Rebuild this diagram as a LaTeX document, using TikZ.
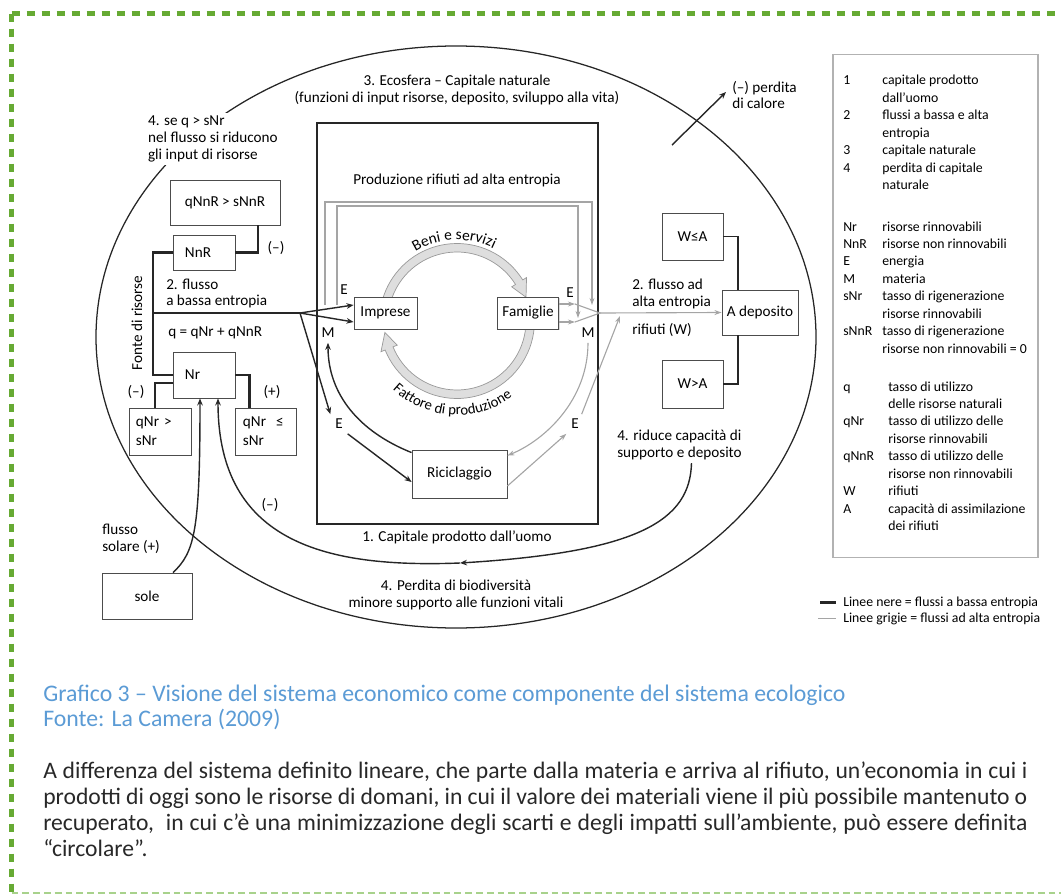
\documentclass[tikz,border=0pt]{standalone}
\usepackage{fontspec}
\setmainfont{Carlito}
\usetikzlibrary{shapes,positioning,calc,arrows.meta,shadows,decorations.text}
\definecolor{frameGreen}{RGB}{102,170,51}
\definecolor{paleGreen}{RGB}{168,210,140}
\definecolor{capBlue}{RGB}{91,155,213}
\definecolor{bodyGray}{RGB}{40,40,40}
\definecolor{hiGray}{RGB}{165,165,165}
\definecolor{bandGray}{RGB}{222,222,222}

\begin{document}
\begin{tikzpicture}
  [x=0.025cm,y=-0.025cm,
   font=\fontsize{10.8}{11.8}\selectfont,
   boxN/.style={draw=black!70,line width=0.6pt,fill=white,
                font=\fontsize{10.8}{13.5}\selectfont,
                drop shadow={shadow xshift=1pt,shadow yshift=-1pt,opacity=0.3}},
   lblN/.style={inner sep=0pt,align=left},
   lowF/.style={line width=1.6pt,black!85},
   lowA/.style={line width=1pt,black!85,-{Stealth[length=5pt,width=4pt]}},
   highF/.style={line width=0.8pt,hiGray},
   highA/.style={highF,-{Stealth[length=5pt,width=3.5pt]}},
   bandN/.style={fill=bandGray,draw=gray!80,line width=0.5pt},
   legN/.style={inner sep=0pt,anchor=base west,font=\fontsize{9.8}{12.4}\selectfont},
  ]
  \useasboundingbox (0,0) rectangle (1061,894);

  % page frame
  \draw[frameGreen,line width=0.11cm,dash pattern=on 0.2cm off 0.175cm] (11.5,13.5) -- (1061,13.5);
  \draw[frameGreen,line width=0.11cm,dash pattern=on 0.2cm off 0.175cm] (11.5,13.5) -- (11.5,894);
  \draw[paleGreen,line width=0.05cm,dash pattern=on 0.17cm off 0.1cm] (11.5,892.5) -- (1061,892.5);

  % ecosfera and capitale prodotto
  \draw[line width=0.9pt,black!85] (456,337) ellipse [x radius=360,y radius=291];
  \draw[line width=1.8pt,black!85] (317,123) rectangle (598,524);
  \node (cap1) at (457,537) {1. Capitale prodotto dall’uomo};
  \node[align=center] (eco) at (457,90) {3. Ecosfera – Capitale naturale\\(funzioni di input risorse, deposito, sviluppo alla vita)};
  \node (prodW) at (457,180) {Produzione rifiuti ad alta entropia};

  % gray waste frame
  \coordinate (wL1) at (325,305);
  \coordinate (wL2) at (337,305);
  \coordinate (wTop1) at (592,202);
  \coordinate (wTop2) at (578,206);
  \draw[highA] (wL1) |- (wTop1) -- ++(0,103);
  \draw[highA] (wL2) |- (wTop2) -- ++(0,112);

  % circular flow
  \begin{scope}[shift={(457,321)}]
    \filldraw[bandN]
      plot[domain=185:328,samples=40] ({77.5*cos(\x)},{77.5*sin(\x)})
      -- ({82*cos(328)},{82*sin(328)}) -- ({73*cos(341)},{73*sin(341)})
      -- ({64.5*cos(328)},{64.5*sin(328)})
      -- plot[domain=328:185,samples=40] ({69*cos(\x)},{69*sin(\x)}) -- cycle;
    \filldraw[bandN]
      plot[domain=5:158,samples=40] ({77.5*cos(\x)},{77.5*sin(\x)})
      -- ({82*cos(158)},{82*sin(158)}) -- ({73*cos(171)},{73*sin(171)})
      -- ({64.5*cos(158)},{64.5*sin(158)})
      -- plot[domain=158:5,samples=40] ({69*cos(\x)},{69*sin(\x)}) -- cycle;
    \path[decorate,decoration={text along path,text align=center,
          text={|\fontsize{11}{11}\selectfont|Beni e servizi}}]
      plot[domain=220:316,samples=30] ({81*cos(\x)},{81*sin(\x)});
    \path[decorate,decoration={text along path,text align=center,
          text={|\fontsize{10.5}{11}\selectfont|Fattore di produzione}}]
      plot[domain=162:25,samples=30] ({94*cos(\x)},{94*sin(\x)});
  \end{scope}

  \node[boxN,minimum width=1.575cm,minimum height=0.8cm] (imp) at (385.5,313) {Imprese};
  \node[boxN,minimum width=1.5cm,minimum height=0.8cm] (fam) at (528,313) {Famiglie};
  \node[boxN,minimum width=2.375cm,minimum height=1.2cm] (ric) at (459.5,474) {Riciclaggio};

  \node (eL) at (344,290) {E};
  \node (mL) at (328,333) {M};
  \node (eL2) at (339,424) {E};
  \node (eR) at (570,293) {E};
  \node (mR) at (588,333) {M};
  \node (eR2) at (575,424) {E};

  % resources
  \node[boxN,minimum width=2.75cm,minimum height=1.125cm] (qnnr) at (225,202.5) {qNnR > sNnR};
  \node[boxN,minimum width=1.55cm,minimum height=0.875cm,text width=0.95cm,align=left,inner xsep=0.3cm] (nnr) at (204,252.5) {NnR};
  \node[boxN,minimum width=1.55cm,minimum height=1.15cm,text width=0.95cm,align=left,inner xsep=0.3cm] (nr) at (204,375) {Nr};
  \node[boxN,minimum width=1.55cm,minimum height=1.175cm,text width=1.2cm,align=left,inner xsep=0.175cm] (qnrG) at (160,431.5) {qNr >\\sNr};
  \node[boxN,minimum width=1.525cm,minimum height=1.175cm,text width=1.125cm,align=left,inner xsep=0.2cm] (qnrL) at (265.5,431.5) {qNr~ ≤\\sNr};
  \node[boxN,minimum width=2.25cm,minimum height=1.15cm] (sole) at (147,596) {sole};

  \node[lblN,rotate=90] (fonte) at (137,323) {Fonte di risorse};
  \node[lblN,anchor=west] (lowFlow) at (166,293.5) {2. flusso\\a bassa entropia};
  \node[lblN,anchor=west] (qSum) at (168,333) {q = qNr + qNnR};
  \node (minusA) at (276,248) {(–)};
  \node (minusB) at (136,392) {(–)};
  \node (plusA) at (272,392) {(+)};
  \node (minusC) at (270,505) {(–)};
  \node[lblN,anchor=west] (solarF) at (102,539) {flusso\\solare (+)};
  \node[lblN,anchor=west,fill=white,inner sep=2pt] (seq) at (145,139) {4. se q > sNr\\nel flusso si riducono\\gli input di risorse};

  % deposit
  \node[boxN,minimum width=1.525cm,minimum height=1.175cm] (wle) at (692.5,236.5) {W≤A};
  \node[boxN,minimum width=1.9cm,minimum height=1.125cm] (adep) at (760,312.5) {A deposito};
  \node[boxN,minimum width=1.525cm,minimum height=1.2cm] (wgt) at (692.5,384) {W>A};
  \node[lblN,anchor=west] (hiFlow) at (632,294) {2. flusso ad\\alta entropia};
  \node[lblN,anchor=west] (waste) at (632,330) {rifiuti (W)};
  \node[lblN,anchor=west] (rid) at (617,445) {4. riduce capacità di\\supporto e deposito};
  \node[lblN,anchor=west] (calore) at (732,95) {(–) perdita\\di calore};
  \node[align=center] (bio) at (456,595) {4. Perdita di biodiversità\\minore supporto alle funzioni vitali};

  % low entropy flows
  \coordinate (fonteBot) at (153,375);
  \coordinate (fonteMid) at (153,313);
  \coordinate (split) at (300,313);
  \draw[lowF] (nnr.west) -| (fonteBot) -- (nr.west);
  \draw[lowF,line width=1.3pt] (fonteMid) -- (split);
  \draw[lowF] (nnr.east) -| ($(qnnr.south)+(33,0)$);
  \draw[lowF] (nr.east) -| ($(qnrL.north)+(-16,0)$);
  \draw[lowF] ($(qnrG.north)+(-5,0)$) |- ($(nr.west)+(0,8)$);
  \draw[lowA] (split) -- ($(imp.west)+(0,-8)$);
  \draw[lowA] (split) -- ($(imp.west)+(0,9)$);
  \draw[lowA] (split) -- (eL2.north west);
  \draw[lowA] (eL2.south east) -- ($(ric.west)+(0,8)$);
  \draw[lowA] ($(ric.north west)+(0,3)$) .. controls (360,432) and (328,395) .. (mL.south);
  \draw[lowA] ($(sole.north)+(26,0)$) .. controls (195,552) and (200,530) .. ($(nr.south)+(-4,0)$);
  \coordinate (bioArr) at (460,563);
  \draw[lowA] ($(rid.south)+(12,3)$) .. controls (690,520) and (640,552) .. (bioArr);
  \draw[lowA] (bioArr) .. controls (330,568) and (218,545) .. ($(nr.south)+(14,0)$);
  \coordinate (heatS) at (672,145);
  \draw[lowA] (heatS) -- ($(calore.west)+(-6,-3)$);
  \draw[lowF,line width=1.4pt] (wle.east) -| ($(adep.north)+(-22,0)$);
  \draw[lowF,line width=1.4pt] (wgt.east) -| ($(adep.south)+(-22,0)$);

  % high entropy flows
  \coordinate (famOut1) at (575,304);
  \coordinate (famOut2) at (575,322);
  \coordinate (wMerge) at (600,313);
  \coordinate (wJoin) at (620,316);
  \draw[highA] ($(fam.east)+(0,-9)$) -- (famOut1);
  \draw[highA] ($(fam.east)+(0,9)$) -- (famOut2);
  \draw[highF] (famOut1) -- (wMerge) -- (famOut2);
  \draw[highA] (wMerge) -- (adep.west);
  \draw[highA] (mR.south) .. controls (588,400) and (545,440) .. ($(ric.north east)+(0,6)$);
  \draw[highA] ($(ric.east)+(0,12)$) -- (eR2.south west);
  \draw[highA] ($(eR2.north east)+(-2,0)$) -- (wJoin);

  % legend
  \node[draw=gray!60,line width=0.8pt,minimum width=5.125cm,minimum height=12.55cm] (legend) at (935.5,306) {};
  \node[legN] (legA) at (843,85) {\begin{tabular}[t]{@{}p{0.975cm}@{}l@{}}
    1 & capitale prodotto\\ & dall’uomo\\ 2 & flussi a bassa e alta\\ & entropia\\
    3 & capitale naturale\\ 4 & perdita di capitale\\ & naturale\end{tabular}};
  \node[legN] (legB) at (843,231) {\begin{tabular}[t]{@{}p{0.975cm}@{}l@{}}
    Nr & risorse rinnovabili\\ NnR & risorse non rinnovabili\\ E & energia\\ M & materia\\
    sNr & tasso di rigenerazione\\ & risorse rinnovabili\\
    sNnR & tasso di rigenerazione\\ & risorse non rinnovabili = 0\end{tabular}};
  \node[legN] (legC) at (843,391) {\begin{tabular}[t]{@{}p{1.125cm}@{}l@{}}
    q & tasso di utilizzo\\ & delle risorse naturali\\
    qNr & tasso di utilizzo delle\\ & risorse rinnovabili\\
    qNnR & tasso di utilizzo delle\\ & risorse non rinnovabili\\
    W & rifiuti\\ A & capacità di assimilazione\\ & dei rifiuti\end{tabular}};
  \node[legN] (legBlack) at (843,606) {Linee nere = flussi a bassa entropia};
  \node[legN] (legGray) at (843,622) {Linee grigie = flussi ad alta entropia};
  \draw[line width=1.8pt,black!85] ([xshift=-0.575cm]legBlack.west) -- ([xshift=-0.175cm]legBlack.west);
  \draw[line width=1pt,hiGray] ([xshift=-0.625cm]legGray.west) -- ([xshift=-0.175cm]legGray.west);

  % caption and text
  \node[anchor=base west,inner sep=0pt,text=capBlue,font=\fontsize{16.9}{17.8}\selectfont] (cap) at (43,701)
    {Grafico 3 – Visione del sistema economico come componente del sistema ecologico};
  \node[anchor=base west,inner sep=0pt,text=capBlue,font=\fontsize{16.9}{17.8}\selectfont] (src) at (43,726)
    {Fonte: La Camera (2009)};
  \node[anchor=base west,inner sep=0pt,text width=24.6cm,align=justify,text=bodyGray,font=\fontsize{16.8}{18.5}\selectfont] (body) at (43,778)
    {A differenza del sistema definito lineare, che parte dalla materia e arriva al rifiuto, un’economia in cui i\linebreak
     prodotti di oggi sono le risorse di domani, in cui il valore dei materiali viene il più possibile mantenuto o\linebreak
     recuperato,~ in cui c’è una minimizzazione degli scarti e degli impatti sull’ambiente, può essere definita\linebreak
     “circolare”.};
\end{tikzpicture}
\end{document}
